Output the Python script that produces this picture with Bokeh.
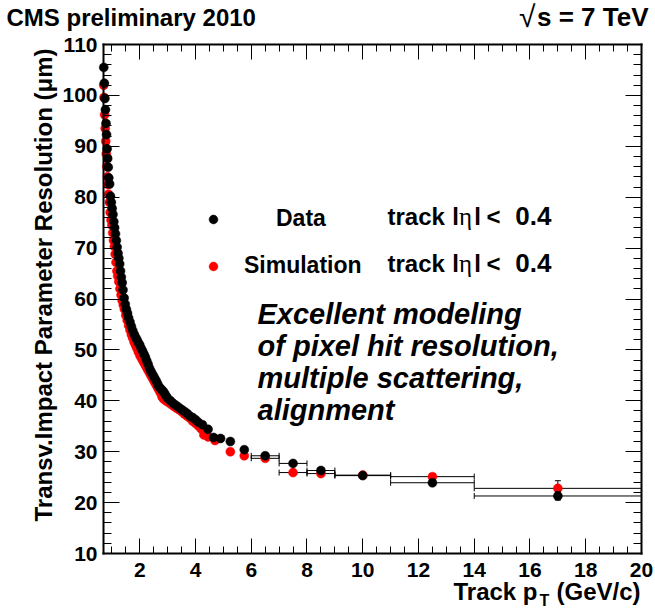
import math
from bokeh.plotting import figure
from bokeh.models import Range1d, LinearAxis, FixedTicker, Label, Legend, LegendItem
from bokeh.embed import file_html
from bokeh.resources import INLINE

# ---------------- data ----------------
pt_data = [0.71, 0.73, 0.75, 0.77, 0.79, 0.81, 0.83, 0.85, 0.87, 0.89, 0.92, 0.95, 0.98,
           1.01, 1.04, 1.07, 1.10, 1.13, 1.16, 1.19, 1.22, 1.25, 1.28, 1.31, 1.34, 1.37,
           1.40, 1.44, 1.48, 1.52, 1.56, 1.60, 1.65, 1.70, 1.75, 1.80, 1.85, 1.90, 1.95,
           2.00, 2.05, 2.10, 2.15, 2.20, 2.25, 2.30, 2.35, 2.40, 2.45, 2.50, 2.55, 2.60,
           2.65, 2.70, 2.75, 2.80, 2.85, 2.90, 2.95, 3.00, 3.10, 3.20, 3.30, 3.40, 3.50,
           3.60, 3.70, 3.80, 3.90, 4.00, 4.10, 4.25, 4.45, 4.65, 4.90, 5.25, 5.75]
res_data = [105.5, 102.4, 99.4, 97.2, 94.5, 92.3, 89.5, 87.6, 85.9, 83.8, 82.6, 80.2, 79.0,
            77.8, 76.6, 75.2, 74.0, 72.8, 71.5, 70.2, 69.0, 68.0, 66.9, 65.5, 64.3, 63.2,
            61.8, 60.2, 59.0, 58.0, 57.2, 56.3, 55.5, 54.6, 53.8, 53.1, 52.5, 52.0, 51.4,
            51.0, 50.3, 49.8, 49.2, 48.6, 47.9, 47.2, 46.4, 45.8, 45.3, 44.8, 44.3, 43.8,
            43.2, 42.7, 42.4, 42.1, 41.8, 41.4, 40.9, 40.5, 40.0, 39.5, 39.1, 38.7, 38.3,
            37.9, 37.5, 37.0, 36.7, 36.3, 35.8, 35.3, 34.4, 32.8, 32.6, 32.0, 30.4]

pt_sim = [0.71, 0.72, 0.74, 0.76, 0.78, 0.80, 0.82, 0.84, 0.86, 0.88, 0.91, 0.94, 0.97,
          1.00, 1.03, 1.06, 1.09, 1.12, 1.15, 1.18, 1.21, 1.25, 1.29, 1.33, 1.37, 1.41,
          1.45, 1.50, 1.55, 1.60, 1.65, 1.70, 1.75, 1.80, 1.85, 1.90, 1.95, 2.00, 2.05,
          2.10, 2.15, 2.20, 2.25, 2.30, 2.35, 2.40, 2.45, 2.50, 2.55, 2.60, 2.65, 2.70,
          2.75, 2.80, 2.85, 2.90, 2.95, 3.00, 3.10, 3.20, 3.30, 3.40, 3.50, 3.60, 3.70,
          3.80, 3.90, 4.00, 4.10, 4.20, 4.30, 4.45, 4.70, 5.25, 5.75]
res_sim = [102.0, 99.6, 96.2, 93.5, 91.0, 88.5, 86.0, 84.0, 82.5, 80.6, 79.0, 77.0, 75.5,
           74.5, 73.0, 71.5, 70.3, 68.8, 67.2, 65.5, 64.5, 63.4, 62.0, 60.8, 59.7, 58.8,
           58.0, 56.8, 55.8, 54.8, 53.9, 53.0, 52.3, 51.5, 50.9, 50.3, 49.6, 49.0, 48.5,
           48.0, 47.5, 47.0, 46.5, 46.0, 45.5, 45.0, 44.5, 44.0, 43.5, 43.0, 42.5, 42.0,
           41.5, 40.8, 40.4, 40.2, 40.0, 39.8, 39.4, 39.0, 38.6, 38.3, 37.9, 37.4, 37.0,
           36.6, 36.0, 35.6, 35.1, 34.5, 33.3, 32.9, 32.2, 30.0, 29.2]

# wide bins at high pT (bin edges, centres, values, vertical errors)
bin_lo = [6.0, 7.0, 8.0, 9.0, 11.0, 14.0]
bin_hi = [7.0, 8.0, 9.0, 11.0, 14.0, 20.0]
bin_pt = [6.5, 7.5, 8.5, 10.0, 12.5, 17.0]
data_tail = [29.2, 27.7, 26.3, 25.3, 23.9, 21.3]
data_tail_err = [0.2, 0.2, 0.3, 0.3, 0.4, 0.8]
sim_tail = [28.7, 25.9, 25.7, 25.4, 25.1, 22.8]
sim_tail_err = [0.3, 0.4, 0.4, 0.5, 0.6, 1.5]

x_lim = (0.7, 20.0)
y_lim = (10.0, 110.0)
x_ticks = [2, 4, 6, 8, 10, 12, 14, 16, 18, 20]
x_minor = [1.0 + 0.5 * i for i in range(39)]
y_ticks = [10, 20, 30, 40, 50, 60, 70, 80, 90, 100, 110]
y_minor = [10 + 2 * i for i in range(51)]

# ---------------- layout: the frame fills the canvas, axes sit at fixed spots ----------------
FONT = "Liberation Sans"
W, H = 655, 609
FL, FR, FT, FB = 103, 641, 44, 553          # pixel box of the plotted area
kx = (FR - FL) / (x_lim[1] - x_lim[0])
ky = (FB - FT) / (y_lim[1] - y_lim[0])
x_rng = Range1d(x_lim[0] - FL / kx, x_lim[1] + (W - FR) / kx)
y_rng = Range1d(y_lim[0] - (H - FB) / ky, y_lim[1] + FT / ky)

p = figure(width=W, height=H, x_range=x_rng, y_range=y_rng,
           output_backend="svg", toolbar_location=None,
           x_axis_location=None, y_axis_location=None,
           min_border=0, min_border_left=0, min_border_right=0,
           min_border_top=0, min_border_bottom=0,
           background_fill_color="white", border_fill_color="white")
p.grid.visible = False
p.outline_line_color = None


def make_axis(side, loc, bounds, ticks, minor, tick_len, show_labels, standoff):
    ax = LinearAxis(fixed_location=loc, bounds=bounds,
                    ticker=FixedTicker(ticks=ticks, minor_ticks=minor))
    ax.major_tick_in = tick_len
    ax.major_tick_out = 0
    ax.minor_tick_in = tick_len // 2
    ax.minor_tick_out = 0
    ax.axis_line_width = 2
    ax.axis_line_color = "black"
    ax.axis_line_cap = "square"
    ax.major_tick_line_color = "black"
    ax.minor_tick_line_color = "black"
    ax.major_tick_line_width = 1
    ax.minor_tick_line_width = 1
    ax.major_label_text_font = FONT
    ax.major_label_text_font_style = "bold"
    ax.major_label_text_color = "black"
    ax.major_label_standoff = standoff
    if show_labels:
        ax.major_label_text_font_size = "21px"
    else:
        ax.major_label_text_font_size = "0px"
        ax.major_label_text_alpha = 0
    p.add_layout(ax, side)
    return ax


make_axis("below", y_lim[0], x_lim, x_ticks, x_minor, 15, True, 9)
make_axis("above", y_lim[1], x_lim, x_ticks, x_minor, 15, False, 0)
make_axis("left", x_lim[0], y_lim, y_ticks, y_minor, 16, True, 6)
make_axis("right", x_lim[1], y_lim, y_ticks, y_minor, 16, False, 0)


# ---------------- error bars on the wide bins ----------------
def draw_bars(vals, errs):
    p.segment(x0=bin_lo, y0=vals, x1=bin_hi, y1=vals, line_color="black", line_width=1)
    p.scatter(x=bin_lo + bin_hi, y=vals + vals, marker="dash", angle=math.pi / 2,
              size=6, line_color="black", line_width=1)
    lo = [v - e for v, e in zip(vals, errs)]
    hi = [v + e for v, e in zip(vals, errs)]
    p.segment(x0=bin_pt, y0=lo, x1=bin_pt, y1=hi, line_color="black", line_width=1)
    p.scatter(x=bin_pt + bin_pt, y=lo + hi, marker="dash", size=6,
              line_color="black", line_width=1)


draw_bars(sim_tail, sim_tail_err)
r_sim = p.scatter(pt_sim + bin_pt, res_sim + sim_tail, size=9,
                  fill_color="#ff0000", line_color="#ff0000", line_width=0.5)
draw_bars(data_tail, data_tail_err)
r_data = p.scatter(pt_data + bin_pt, res_data + data_tail, size=9,
                   fill_color="black", line_color="black", line_width=0.5)


# ---------------- legends (one per entry) ----------------
def make_legend(label, renderer, left_px, top_px, standoff):
    lg = Legend(items=[LegendItem(label=label, renderers=[renderer])],
                location=(left_px, H - top_px - 24),
                glyph_width=22, glyph_height=22, label_height=24,
                label_standoff=standoff, padding=0, margin=0, spacing=0,
                border_line_color=None, background_fill_alpha=0,
                label_text_font=FONT, label_text_font_style="bold",
                label_text_font_size="23px", label_text_color="black")
    p.add_layout(lg, "center")


make_legend("Data", r_data, 202, 208, 52)
make_legend("Simulation", r_sim, 202, 255, 20)


# ---------------- text ----------------
SHIFT = 0.41   # Bokeh draws the alphabetic baseline this many em lower than asked


def lab(text, px, py, size, align="left", style="bold", font=FONT, angle=0.0):
    if angle:
        px = px - SHIFT * size
    else:
        py = py - SHIFT * size
    p.add_layout(Label(x=px, y=H - py, x_units="screen", y_units="screen",
                       text=text, text_font=font, text_font_size=f"{size}px",
                       text_font_style=style, text_align=align,
                       text_baseline="alphabetic", angle=angle, text_color="black"))


lab("CMS preliminary 2010", 6, 27, 24)
lab("\u221a", 535, 28, 30, align="right", style="normal")
lab("s = 7 TeV", 648, 27, 26, align="right")

# legend description texts
for yb in (226, 273):
    lab("track", 387, yb, 24)
    lab("l", 455, yb, 24, align="center")
    lab("\u03b7", 465, yb, 25, align="center", style="normal", font="Liberation Serif")
    lab("l", 477, yb, 24, align="center")
    lab("<", 493, yb, 24, align="center")
    lab("0.4", 551, yb, 26, align="right")

# comment block
lab("Excellent modeling", 257, 325, 29, style="bold italic")
lab("of pixel hit resolution,", 257, 357, 29, style="bold italic")
lab("multiple scattering,", 257, 389, 29, style="bold italic")
lab("alignment", 257, 421, 29, style="bold italic")

# axis titles
lab("(GeV/c)", 640, 601, 24, align="right")
lab("T", 539, 607, 16)
lab("Track p", 537, 601, 24, align="right")
lab("Transv.Impact Parameter Resolution (\u03bcm)", 53, 48, 24, align="right",
    angle=math.pi / 2)

open("out.html", "w").write(file_html(p, INLINE))
